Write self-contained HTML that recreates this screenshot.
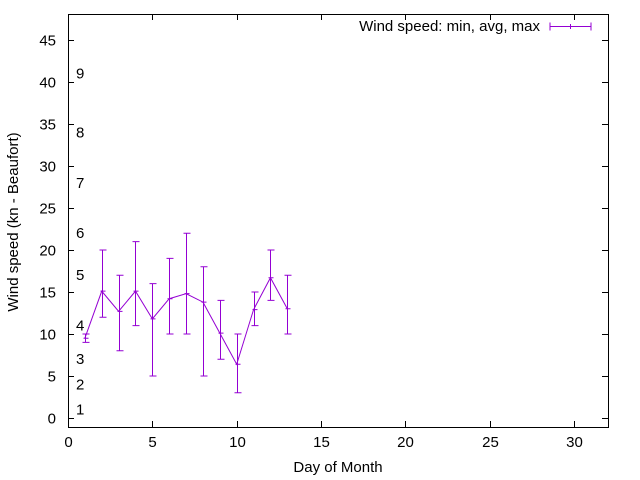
<!DOCTYPE html>
<html><head><meta charset="utf-8"><style>
body{margin:0;background:#fff}
svg{display:block;font-family:"Liberation Sans",sans-serif}
</style></head><body>
<svg id="chart" width="640" height="480">
<rect x="68.5" y="14.5" width="540" height="413" fill="none" stroke="#000"/>
<g id="axes"></g>
<g id="beaufort" font-size="15" fill="#000"></g>
<g id="series"></g>
<text x="338" y="472" font-size="15" text-anchor="middle">Day of Month</text>
<text transform="translate(18,222) rotate(-90)" font-size="15" text-anchor="middle">Wind speed (kn - Beaufort)</text>
<g>
<text x="540" y="31" font-size="15" text-anchor="end">Wind speed: min, avg, max</text>
<g stroke="#9400d3"><line x1="550" y1="26.5" x2="591" y2="26.5"/><line x1="550" y1="22.5" x2="550" y2="30.5"/><line x1="591" y1="22.5" x2="591" y2="30.5"/><line x1="570.5" y1="24" x2="570.5" y2="29"/></g>
</g>
</svg>
<script>
const days=[1,2,3,4,5,6,7,8,9,10,11,12,13];
const avgs=[9.5,15.1,12.7,15.1,11.8,14.2,14.8,13.8,10.1,6.4,12.9,16.7,13];
const mins=[9,12,8,11,5,10,10,5,7,3,11,14,10];
const maxs=[10,20,17,21,16,19,22,18,14,10,15,20,17];
const xTicks=[0,5,10,15,20,25,30];
const yTicks=[0,5,10,15,20,25,30,35,40,45];
const bfLabels=["1","2","3","4","5","6","7","8","9"];
const bfValues=[1,4,7,11,17,22,28,34,41];
const NS="http://www.w3.org/2000/svg";
const X=v=>68+v*16.87, Y=v=>418-v*8.4;
const axes=document.getElementById('axes');
function mk(tag,attrs,parent){const e=document.createElementNS(NS,tag);for(const k in attrs)e.setAttribute(k,attrs[k]);parent.appendChild(e);return e;}
xTicks.forEach(t=>{
  const x=Math.round(X(t))+0.5;
  const l=mk('path',{d:`M${x},427V421M${x},14V20`,stroke:'#000'},axes);
  
  
  const tx=mk('text',{x:x,y:447,'font-size':15,'text-anchor':'middle'},axes);tx.textContent=t;
  
  
});
yTicks.forEach(t=>{
  const y=Math.round(Y(t))+0.5;
  const l=mk('path',{d:`M68,${y}H74M608,${y}H602`,stroke:'#000'},axes);
  
  
  const tx=mk('text',{x:56,y:y+5,'font-size':15,'text-anchor':'end'},axes);tx.textContent=t;
  
  
});
const bf=document.getElementById('beaufort');
bfLabels.forEach((s,i)=>{
  const tx=mk('text',{x:76,y:Y(bfValues[i])+5},bf);tx.textContent=s;
  
  
});
const g=document.getElementById('series');
const line=mk('polyline',{points:days.map((d,i)=>X(d)+','+Y(avgs[i])).join(' '),fill:'none',stroke:'#9400d3'},g);


days.forEach((d,i)=>{
  const x=Math.round(X(d))+0.5,y1=Y(mins[i]),y2=Y(maxs[i]);
  const p=mk('path',{d:`M${x},${y1}V${y2}M${x-3},${y1}H${x+4}M${x-3},${y2}H${x+4}M${x-2},${Y(avgs[i])}H${x+3}`,stroke:'#9400d3',fill:'none'},g);
  
  
});
</script>
</body></html>
